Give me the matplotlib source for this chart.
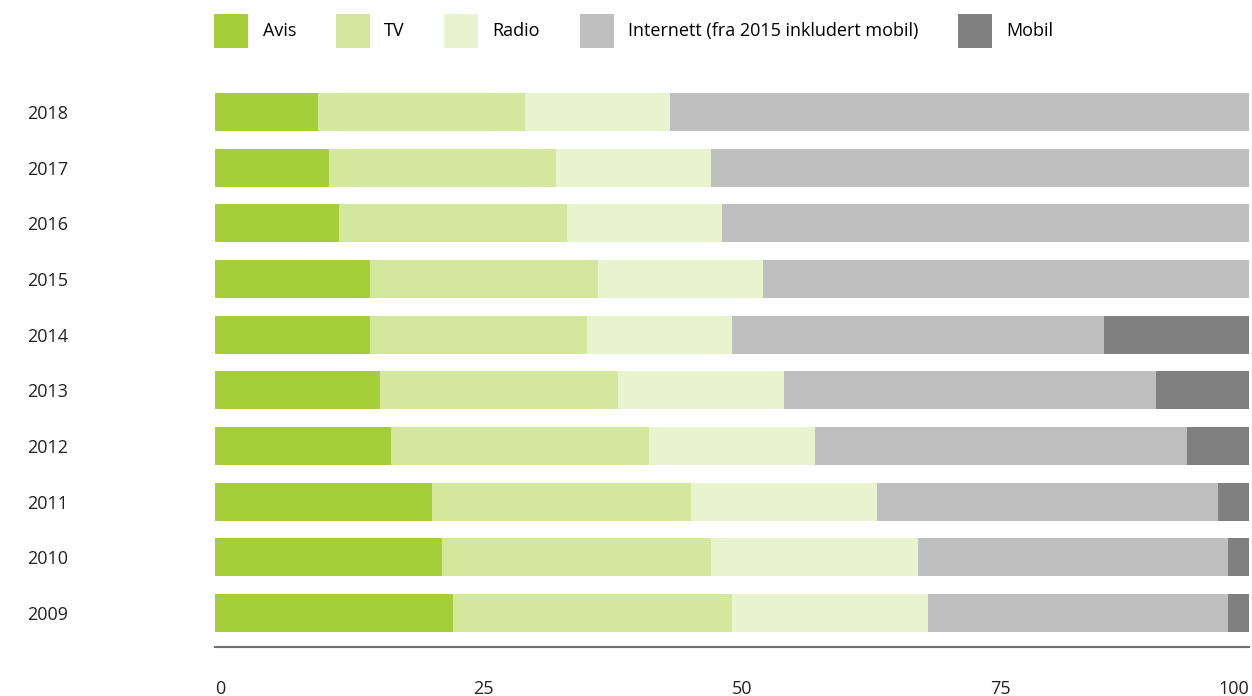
import matplotlib.pyplot as plt

# Andel (%) per år
years = ["2009", "2010", "2011", "2012", "2013", "2014", "2015", "2016", "2017", "2018"]
avis = [23, 22, 21, 17, 16, 15, 15, 12, 11, 10]
tv = [27, 26, 25, 25, 23, 21, 22, 22, 22, 20]
radio = [19, 20, 18, 16, 16, 14, 16, 15, 15, 14]
internett = [29, 30, 33, 36, 36, 36, 47, 51, 52, 56]
mobil = [2, 2, 3, 6, 9, 14, 0, 0, 0, 0]

series = [
    ("Avis", avis, "#a6ce39"),
    ("TV", tv, "#d3e89c"),
    ("Radio", radio, "#e9f3d0"),
    ("Internett (fra 2015 inkludert mobil)", internett, "#bfbfbf"),
    ("Mobil", mobil, "#808080"),
]
xticks = [0, 25, 50, 75, 100]

plt.rcParams['font.family'] = ['Open Sans', 'DejaVu Sans']
plt.rcParams['font.size'] = 13

fig = plt.figure(figsize=(12.52, 6.96), dpi=100)
ax = fig.add_axes([0.1717, 0.0704, 0.8259, 0.8146])

pos = list(range(len(years)))
left = [0] * len(years)
for name, vals, color in series:
    ax.barh(pos, vals, left=left, height=0.68, color=color, label=name, linewidth=0)
    left = [l + v for l, v in zip(left, vals)]

ax.set_xlim(0, 100)
ax.set_ylim(-0.61, 9.575)

for s in ["top", "right", "left"]:
    ax.spines[s].set_visible(False)
ax.spines["bottom"].set_color("#707070")
ax.spines["bottom"].set_linewidth(1.5)

ax.set_yticks(pos)
ax.set_yticklabels(years, ha="left", color="#222222")
ax.tick_params(axis="y", length=0, pad=135)

ax.set_xticks(xticks)
ax.set_xticklabels([str(t) for t in xticks], color="#222222")
ax.tick_params(axis="x", length=0, pad=24)
for i, lab in enumerate(ax.get_xticklabels()):
    if i < len(xticks) - 1:
        lab.set_horizontalalignment("left")
    else:
        lab.set_horizontalalignment("right")

fig.legend(loc="upper left", bbox_to_anchor=(0.1603, 1.0), ncol=5, frameon=False,
           handlelength=1.89, handleheight=2.6, handletextpad=0.8, columnspacing=2.18,
           fontsize=13, borderaxespad=0.35)

plt.savefig("out.png", dpi=100)
